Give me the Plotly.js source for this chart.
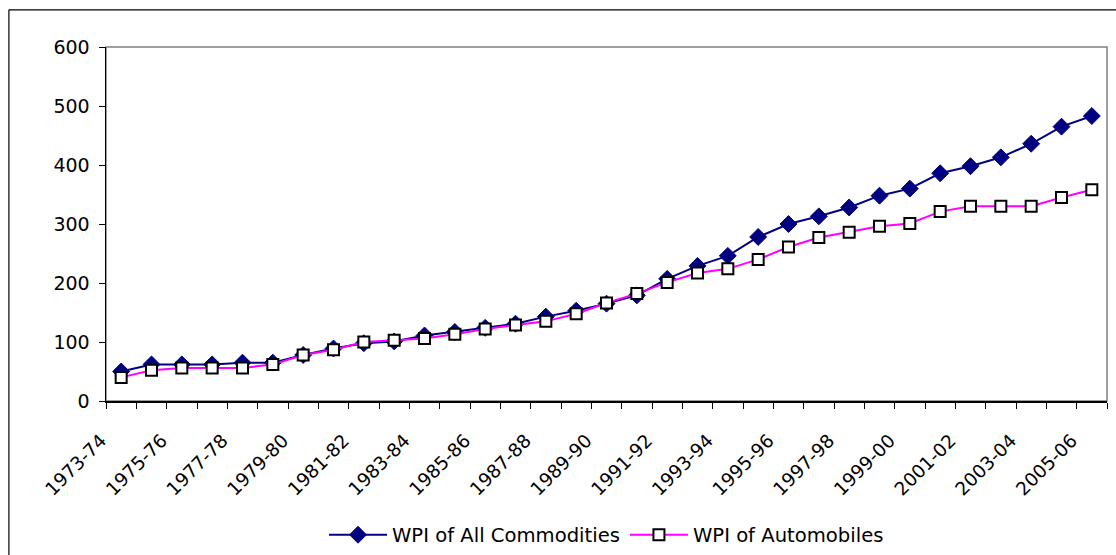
<!DOCTYPE html>
<html>
<head>
<meta charset="utf-8">
<script src="https://cdn.plot.ly/plotly-3.0.1.min.js"></script>
<style>
  html, body { margin: 0; padding: 0; background: #ffffff; }
  #chart { width: 1116px; height: 555px; }
</style>
</head>
<body>
<div id="chart"></div>
<script>
const categories = ['1973-74','1974-75','1975-76','1976-77','1977-78','1978-79','1979-80','1980-81',
  '1981-82','1982-83','1983-84','1984-85','1985-86','1986-87','1987-88','1988-89','1989-90',
  '1990-91','1991-92','1992-93','1993-94','1994-95','1995-96','1996-97','1997-98','1998-99',
  '1999-00','2000-01','2001-02','2002-03','2003-04','2004-05','2005-06'];
const wpiAllCommodities = [50, 62, 62, 62, 65, 65, 78, 89, 98, 101, 111, 117, 124, 131, 143, 153,
  165, 179, 207, 229, 246, 278, 300, 313, 328, 348, 360, 386, 398, 413, 436, 465, 483];
const wpiAutomobiles = [40, 52, 56, 56, 56, 62, 78, 87, 100, 103, 106, 113, 122, 129, 135, 148,
  166, 182, 201, 217, 224, 240, 261, 277, 286, 296, 301, 321, 330, 330, 330, 345, 358];
const seriesNames = ['WPI of All Commodities', 'WPI of Automobiles'];

const font = 'DejaVu Sans, Liberation Sans, Arial, sans-serif';

const traces = [
  {
    x: categories, y: wpiAllCommodities, name: seriesNames[0],
    type: 'scatter', mode: 'lines+markers',
    line: { color: '#000080', width: 2 },
    marker: { symbol: 'diamond', size: 13, color: '#000080', line: { color: '#000080', width: 1 } }
  },
  {
    x: categories, y: wpiAutomobiles, name: seriesNames[1],
    type: 'scatter', mode: 'lines+markers',
    line: { color: '#FF00FF', width: 2 },
    marker: { symbol: 'square', size: 11, color: '#FFFFFF', line: { color: '#000000', width: 2 } }
  }
];

const layout = {
  width: 1116, height: 555,
  margin: { l: 106, r: 9, t: 47, b: 154, pad: 0, autoexpand: false },
  paper_bgcolor: '#ffffff', plot_bgcolor: '#ffffff',
  font: { family: font, size: 19, color: '#000000' },
  showlegend: true,
  legend: {
    orientation: 'h', xref: 'paper', x: 0.5, xanchor: 'center',
    yref: 'container', y: 0.036, yanchor: 'middle',
    font: { family: font, size: 19.6, color: '#000000' },
    itemwidth: 58, bgcolor: 'rgba(0,0,0,0)'
  },
  xaxis: {
    type: 'category', range: [-0.5, 32.5], automargin: false,
    tickmode: 'linear', dtick: 1, tick0: 0, ticklabelstep: 2,
    tickson: 'boundaries', ticks: 'outside', ticklen: 6, tickwidth: 1, tickcolor: '#000000',
    tickangle: -45, ticklabelstandoff: 20, ticklabelshift: -20,
    tickfont: { family: font, size: 18.5, color: '#000000' },
    showline: true, linecolor: '#000000', linewidth: 1.5,
    showgrid: false, zeroline: false, fixedrange: true
  },
  yaxis: {
    range: [0, 600], tickmode: 'linear', dtick: 100, tick0: 0, automargin: false,
    ticks: 'outside', ticklen: 6, tickwidth: 1, tickcolor: '#000000',
    ticklabelstandoff: 5,
    tickfont: { family: font, size: 19, color: '#000000' },
    showline: true, linecolor: '#000000', linewidth: 1.5,
    showgrid: false, zeroline: false, fixedrange: true
  },
  shapes: [
    { type: 'rect', xref: 'paper', yref: 'paper', x0: 0, x1: 1, y0: 0, y1: 1,
      line: { color: '#808080', width: 1.5 }, layer: 'below' },
    { type: 'line', xref: 'paper', yref: 'paper', x0: -0.097, x1: 1.05, y0: 1.105, y1: 1.105,
      line: { color: '#000000', width: 1.2 } },
    { type: 'line', xref: 'paper', yref: 'paper', x0: -0.097, x1: -0.097, y0: 1.105, y1: -0.5,
      line: { color: '#000000', width: 1.2 } }
  ]
};

Plotly.newPlot('chart', traces, layout, { displayModeBar: false, staticPlot: true });
</script>
</body>
</html>
